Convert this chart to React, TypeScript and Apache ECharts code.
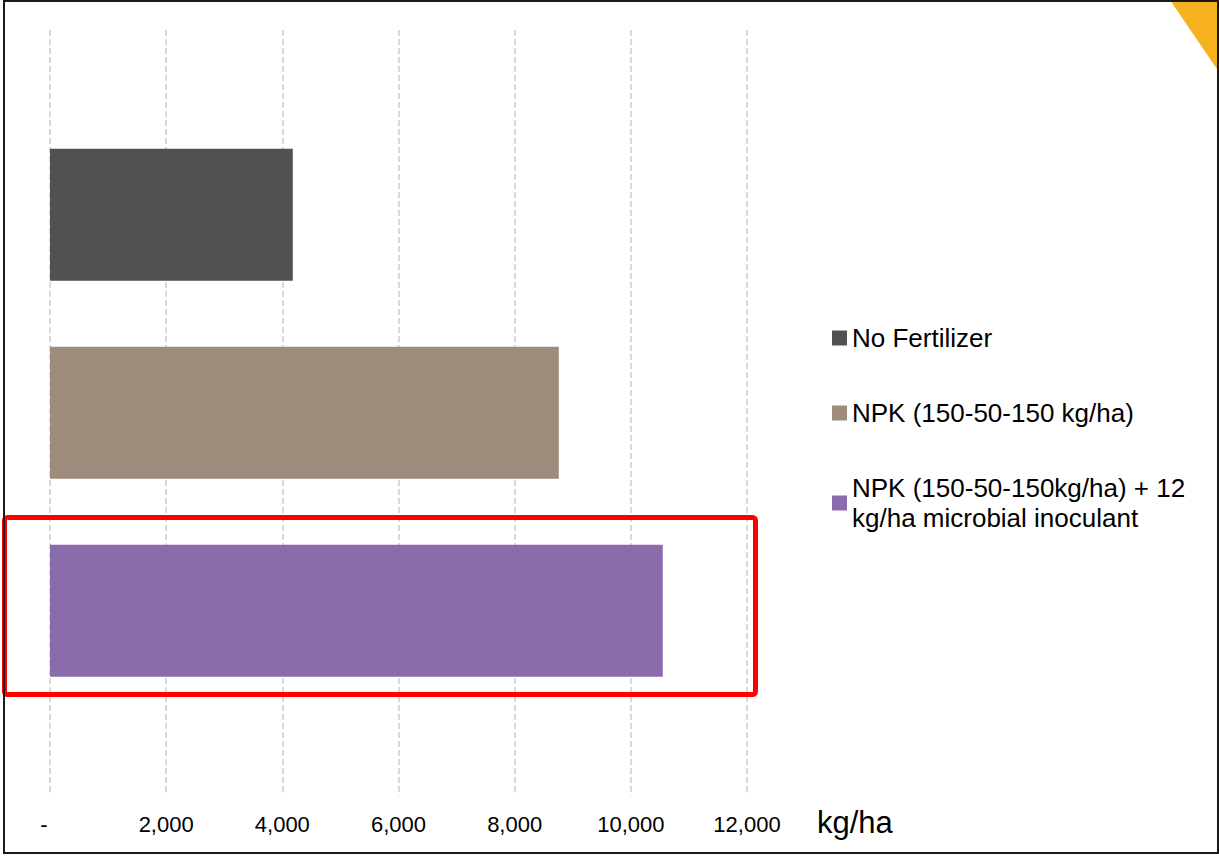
import React, { useEffect, useRef } from "react";
import * as echarts from "echarts";

// Yield per treatment, kg/ha
const treatments = [
  "No Fertilizer",
  "NPK (150-50-150 kg/ha)",
  "NPK (150-50-150kg/ha) + 12 kg/ha microbial inoculant",
];
const yields = [4180, 8760, 10550];
const barColors = ["#515151", "#9D8B7B", "#8A6BAC"];
const xTicks = [0, 2000, 4000, 6000, 8000, 10000, 12000];
const unitLabel = "kg/ha";

const FONT = "'Liberation Sans', Arial, sans-serif";

export default function App() {
  const ref = useRef<HTMLDivElement>(null);

  useEffect(() => {
    if (!ref.current) return;
    const chart = echarts.init(ref.current, null, { renderer: "svg" });

    const series = treatments.map((name, i) => ({
      name,
      type: "bar",
      data: [yields[i]],
      barWidth: 132,
      barGap: "50%",
      itemStyle: { color: barColors[i] },
    }));

    chart.setOption({
      animation: false,
      backgroundColor: "#ffffff",
      textStyle: { fontFamily: FONT },
      grid: { left: 50, right: 472, top: 30, bottom: 60.5, containLabel: false },
      xAxis: {
        type: "value",
        min: xTicks[0],
        max: xTicks[xTicks.length - 1],
        interval: xTicks[1] - xTicks[0],
        axisLine: { show: false },
        axisTick: { show: false },
        splitLine: {
          show: true,
          lineStyle: { color: "#D9D9D9", width: 2, type: [6, 3] },
        },
        axisLabel: {
          margin: 18,
          fontSize: 22,
          color: "#000",
          fontFamily: FONT,
          formatter: (v: number) =>
            v === 0 ? "{d|-}" : v.toLocaleString("en-US"),
          rich: {
            d: { fontSize: 22, color: "#000", padding: [0, 12, 0, 0], fontFamily: FONT },
          },
        },
      },
      yAxis: {
        type: "category",
        data: [""],
        show: false,
      },
      legend: {
        orient: "vertical",
        left: 827,
        top: 318,
        itemWidth: 15,
        itemHeight: 15,
        itemGap: 45,
        icon: "rect",
        data: treatments,
        formatter: (name: string) => name.replace(" + 12 ", " + 12\n"),
        textStyle: {
          fontSize: 26,
          lineHeight: 30,
          color: "#000",
          fontFamily: FONT,
        },
      },
      series,
      graphic: [
        {
          type: "polygon",
          silent: true,
          z: 50,
          shape: { points: [[1170, 0], [1219, 0], [1219, 72]] },
          style: { fill: "#F7B11F" },
        },
        {
          type: "rect",
          silent: true,
          z: 60,
          shape: { x: 4, y: 1, width: 1214, height: 852 },
          style: { fill: "none", stroke: "#1a1a1a", lineWidth: 2 },
        },
        {
          type: "rect",
          silent: true,
          z: 55,
          shape: { x: 4.5, y: 517.5, width: 751, height: 177, r: 3 },
          style: { fill: "none", stroke: "#FF0000", lineWidth: 5 },
        },
        {
          type: "text",
          silent: true,
          z: 55,
          x: 817,
          y: 822,
          style: {
            text: unitLabel,
            fontSize: 31,
            fill: "#000",
            fontFamily: FONT,
            verticalAlign: "middle",
            align: "left",
          },
        },
      ],
    });

    return () => chart.dispose();
  }, []);

  return (
    <div
      ref={ref}
      style={{
        position: "fixed",
        left: 0,
        top: 0,
        width: 1219,
        height: 856,
        background: "#fff",
      }}
    />
  );
}
